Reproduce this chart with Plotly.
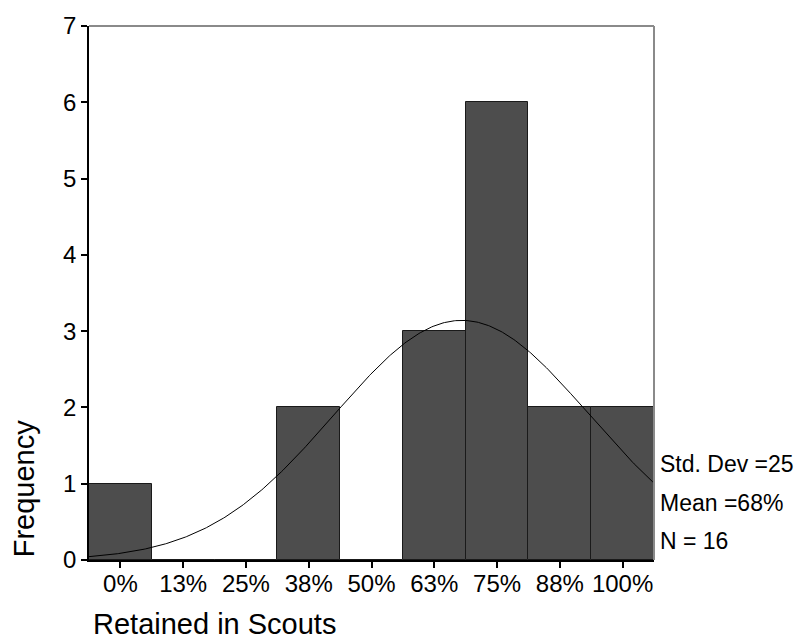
import numpy as np
import plotly.graph_objects as go

# Histogram of the share of members retained in Scouts
bin_centers = [0, 12.5, 25, 37.5, 50, 62.5, 75, 87.5, 100]
tick_labels = ["0%", "13%", "25%", "38%", "50%", "63%", "75%", "88%", "100%"]
frequencies = [1, 0, 0, 2, 0, 3, 6, 2, 2]

bin_width = 12.5
centers = np.array(bin_centers, dtype=float)
counts = np.array(frequencies, dtype=float)
n_obs = int(counts.sum())
mean = float((centers * counts).sum() / n_obs)
sd = float(np.sqrt((counts * (centers - mean) ** 2).sum() / (n_obs - 1)))

# Fitted normal curve scaled to counts per bin
x_lo, x_hi = centers[0] - bin_width / 2, centers[-1] + bin_width / 2
xs = np.linspace(x_lo, x_hi, 400)
ys = n_obs * bin_width / (sd * np.sqrt(2 * np.pi)) * np.exp(-0.5 * ((xs - mean) / sd) ** 2)

FONT = "Arial, Liberation Sans, sans-serif"

fig = go.Figure()
fig.add_trace(go.Bar(
    x=bin_centers, y=frequencies, width=bin_width,
    marker=dict(color="#4d4d4d", line=dict(color="#1a1a1a", width=1)),
    hoverinfo="skip",
))
fig.add_trace(go.Scatter(
    x=xs, y=ys, mode="lines",
    line=dict(color="black", width=1),
    hoverinfo="skip",
))

fig.update_layout(
    width=803, height=639,
    margin=dict(l=89, r=149, t=24, b=79),
    paper_bgcolor="white", plot_bgcolor="white",
    showlegend=False,
    font=dict(family=FONT, color="black", size=24),
    bargap=0,
)
fig.update_xaxes(
    range=[x_lo, x_hi],
    tickmode="array", tickvals=bin_centers, ticktext=tick_labels,
    ticks="outside", ticklen=6, tickwidth=1.5, tickcolor="black",
    ticklabelstandoff=-5,
    showline=True, linecolor="black", linewidth=1.5,
    showgrid=False, zeroline=False,
    tickfont=dict(size=24),
)
fig.update_yaxes(
    range=[0, 7], dtick=1,
    ticks="outside", ticklen=6, tickwidth=1.5, tickcolor="black",
    showline=True, linecolor="black", linewidth=1.5,
    showgrid=False, zeroline=False,
    tickfont=dict(size=24),
)

# Gray top and right frame lines
fig.add_shape(type="line", xref="paper", yref="paper", x0=0, x1=1, y0=1, y1=1,
              line=dict(color="#8a8a8a", width=2), layer="above")
fig.add_shape(type="line", xref="paper", yref="paper", x0=1, x1=1, y0=0, y1=1,
              line=dict(color="#8a8a8a", width=2), layer="above")

# Axis titles
fig.add_annotation(text="Retained in Scouts", xref="paper", yref="paper",
                   x=(91 - 89) / 565, y=0, xanchor="left", yanchor="middle",
                   showarrow=False, font=dict(size=29), yshift=-64)
fig.add_annotation(text="Frequency", xref="paper", yref="paper",
                   x=0, y=(560 - 488) / 536, xanchor="center", yanchor="middle",
                   textangle=-90, showarrow=False, font=dict(size=29), xshift=-65)

# Summary statistics
stats = [f"Std. Dev ={sd:.0f}", f"Mean ={mean:.0f}%", f"N = {n_obs}"]
stat_y = [464, 503, 541]
for txt, yy in zip(stats, stat_y):
    fig.add_annotation(text=txt, xref="paper", yref="paper",
                       x=1, y=(560 - yy) / 536, xanchor="left", yanchor="middle",
                       xshift=4, showarrow=False, font=dict(size=23))

fig.write_html("out.html")
